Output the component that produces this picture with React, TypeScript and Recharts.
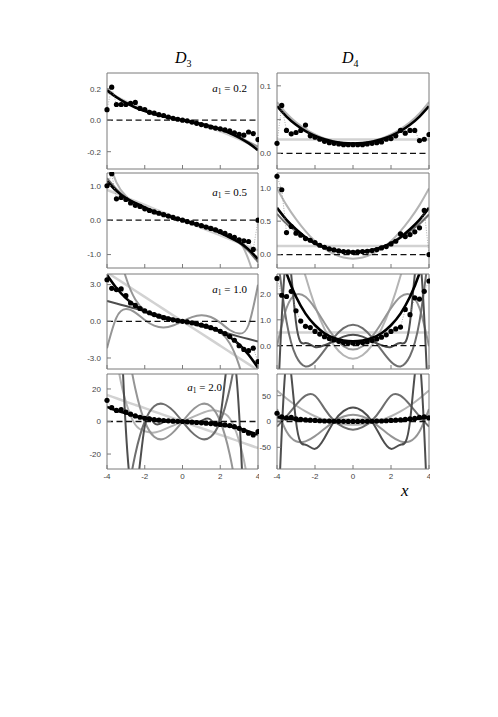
import React from "react";
import { ComposedChart, Line, XAxis, YAxis, ReferenceLine } from "recharts";

// shared x grids
const xCurve = [-4, -3.5, -3, -2.5, -2, -1.5, -1, -0.5, 0, 0.5, 1, 1.5, 2, 2.5, 3, 3.5, 4];
const xDots = [
  -4, -3.75, -3.5, -3.25, -3, -2.75, -2.5, -2.25, -2, -1.75, -1.5, -1.25, -1, -0.75, -0.5, -0.25,
  0, 0.25, 0.5, 0.75, 1, 1.25, 1.5, 1.75, 2, 2.25, 2.5, 2.75, 3, 3.25, 3.5, 3.75, 4,
];
const xTicks = [-4, -2, 0, 2, 4];

// D3, a1 = 0.2
const d3a02Dots = [0.067, 0.21, 0.1, 0.1, 0.1, 0.107, 0.113, 0.075, 0.068, 0.05, 0.045, 0.035, 0.03, 0.02, 0.012, 0.006, 0, -0.004, -0.012, -0.02, -0.028, -0.035, -0.043, -0.05, -0.055, -0.062, -0.068, -0.08, -0.09, -0.095, -0.075, -0.085, -0.123];
const d3a02Fit = [0.19, 0.146, 0.11, 0.081, 0.058, 0.039, 0.024, 0.012, 0, -0.012, -0.024, -0.039, -0.058, -0.081, -0.11, -0.146, -0.19];
const d3a02Gray = [0.2, 0.15, 0.113, 0.085, 0.06, 0.041, 0.026, 0.013, 0, -0.013, -0.026, -0.041, -0.06, -0.083, -0.108, -0.137, -0.168];
const d3a02Light = [0.178, 0.148, 0.12, 0.094, 0.07, 0.05, 0.032, 0.016, 0, -0.016, -0.032, -0.05, -0.07, -0.094, -0.12, -0.148, -0.178];

// D4, a1 = 0.2
const d4a02Dots = [0.015, 0.071, 0.034, 0.029, 0.031, 0.034, 0.042, 0.026, 0.024, 0.021, 0.018, 0.016, 0.015, 0.014, 0.013, 0.013, 0.013, 0.013, 0.013, 0.014, 0.015, 0.016, 0.017, 0.021, 0.022, 0.026, 0.034, 0.03, 0.034, 0.034, 0.019, 0.021, 0.028];
const d4a02Fit = [0.07, 0.0545, 0.0424, 0.033, 0.026, 0.0209, 0.0174, 0.0154, 0.0148, 0.0154, 0.0174, 0.0209, 0.026, 0.033, 0.0424, 0.0545, 0.07];
const d4a02Gray = [0.076, 0.059, 0.046, 0.036, 0.028, 0.022, 0.018, 0.0153, 0.0145, 0.0153, 0.018, 0.022, 0.028, 0.036, 0.046, 0.059, 0.076];
const d4a02Flat = [0.0207, 0.0207, 0.0207, 0.0207, 0.0207, 0.0207, 0.0207, 0.0207, 0.0207, 0.0207, 0.0207, 0.0207, 0.0207, 0.0207, 0.0207, 0.0207, 0.0207];

// D3, a1 = 0.5
const d3a05Dots = [1.0, 1.35, 0.62, 0.66, 0.6, 0.5, 0.43, 0.4, 0.33, 0.28, 0.24, 0.2, 0.16, 0.12, 0.08, 0.04, 0, -0.04, -0.08, -0.12, -0.16, -0.2, -0.24, -0.28, -0.33, -0.38, -0.45, -0.5, -0.57, -0.6, -0.62, -0.85, 0];
const d3a05Fit = [1.13, 0.85, 0.64, 0.5, 0.37, 0.25, 0.165, 0.08, 0, -0.08, -0.165, -0.25, -0.37, -0.5, -0.64, -0.85, -1.13];
const d3a05Steep = [1.9, 1.1, 0.7, 0.45, 0.3, 0.2, 0.13, 0.06, 0, -0.06, -0.13, -0.2, -0.3, -0.45, -0.6, -1.15, -2.0];
const d3a05Dark = [1.22, 0.9, 0.66, 0.49, 0.36, 0.25, 0.16, 0.08, 0, -0.08, -0.16, -0.25, -0.36, -0.49, -0.66, -0.9, -1.22];
const d3a05Light = [0.88, 0.77, 0.66, 0.55, 0.44, 0.33, 0.22, 0.11, 0, -0.11, -0.22, -0.33, -0.44, -0.55, -0.66, -0.77, -0.88];

// D4, a1 = 0.5
const d4a05Dots = [1.17, 0.97, 0.33, 0.42, 0.32, 0.29, 0.24, 0.215, 0.18, 0.14, 0.11, 0.085, 0.07, 0.055, 0.045, 0.04, 0.035, 0.04, 0.045, 0.05, 0.06, 0.075, 0.1, 0.12, 0.16, 0.2, 0.31, 0.27, 0.3, 0.34, 0.4, 0.66, 0];
const d4a05Fit = [0.7, 0.52, 0.38, 0.26, 0.17, 0.11, 0.07, 0.045, 0.04, 0.045, 0.07, 0.11, 0.17, 0.26, 0.38, 0.52, 0.7];
const d4a05Gray = [0.99, 0.74, 0.53, 0.35, 0.2, 0.088, 0.006, -0.044, -0.06, -0.044, 0.006, 0.088, 0.2, 0.35, 0.53, 0.74, 0.99];
const d4a05Dark = [0.61, 0.46, 0.35, 0.25, 0.16, 0.1, 0.06, 0.04, 0.03, 0.04, 0.06, 0.1, 0.16, 0.25, 0.35, 0.46, 0.6];
const d4a05Flat = [0.13, 0.13, 0.13, 0.13, 0.13, 0.13, 0.13, 0.13, 0.13, 0.13, 0.13, 0.13, 0.13, 0.13, 0.13, 0.13, 0.13];

// D3, a1 = 1.0
const d3a10Dots = [3.4, 2.7, 2.6, 2.65, 2.1, 1.5, 1.3, 1.05, 0.85, 0.7, 0.55, 0.42, 0.3, 0.2, 0.12, 0.05, 0, -0.05, -0.12, -0.2, -0.3, -0.4, -0.52, -0.65, -0.82, -1.0, -1.25, -1.55, -2.0, -2.3, -2.4, -2.2, -3.3];
const d3a10Fit = [3.8, 2.73, 1.9, 1.28, 0.82, 0.5, 0.275, 0.12, 0, -0.12, -0.275, -0.5, -0.82, -1.28, -1.9, -2.73, -3.8];
const d3a10Light = [4, 3.5, 3, 2.5, 2, 1.5, 1, 0.5, 0, -0.5, -1, -1.5, -2, -2.5, -3, -3.5, -4];
const d3a10Dark = [1.66, 1.45, 1.25, 1.04, 0.83, 0.62, 0.42, 0.21, 0, -0.21, -0.42, -0.62, -0.83, -1.04, -1.25, -1.45, -1.66];
const d3a10Steep = [12.9, 7, 3.6, 1.79, 0.9, 0.49, 0.277, 0.133, 0, -0.133, -0.277, -0.49, -0.9, -1.79, -3.6, -7, -12.9];
const d3a10Wave = [-2.2, 0.3, 1.0, 0.71, 0.11, -0.35, -0.5, -0.34, 0, 0.34, 0.5, 0.35, -0.11, -0.71, -1.0, -0.3, 3.0];

// D4, a1 = 1.0
const d4a10Dots = [2.6, 1.95, 1.9, 2.1, 1.35, 0.95, 0.75, 0.7, 0.55, 0.45, 0.35, 0.28, 0.22, 0.17, 0.12, 0.1, 0.1, 0.1, 0.12, 0.15, 0.2, 0.26, 0.33, 0.42, 0.55, 0.65, 0.72, 1.4, 1.2, 1.85, 1.8, 2.1, 2.5];
const d4a10Fit = [4.05, 2.8, 1.89, 1.24, 0.79, 0.48, 0.3, 0.2, 0.17, 0.2, 0.3, 0.48, 0.79, 1.24, 1.89, 2.8, 4.05];
const d4a10Flat = [0.51, 0.51, 0.51, 0.51, 0.51, 0.51, 0.51, 0.51, 0.51, 0.51, 0.51, 0.51, 0.51, 0.51, 0.51, 0.51, 0.51];
const d4a10U = [7.7, 5.75, 4.1, 2.69, 1.54, 0.65, 0.01, -0.37, -0.5, -0.37, 0.01, 0.65, 1.54, 2.69, 4.1, 5.75, 7.7];
const d4a10M = [-0.02, 1.45, 1.98, 1.89, 1.45, 0.88, 0.35, -0.02, -0.15, -0.02, 0.35, 0.88, 1.45, 1.89, 1.98, 1.45, -0.02];
const d4a10W = [3.66, 0.94, -0.4, -0.8, -0.62, -0.17, 0.32, 0.68, 0.81, 0.68, 0.32, -0.17, -0.62, -0.8, -0.4, 0.94, 3.66];
const d4a10Edge = [-3, 3.5, 0.9, 0.1, -0.05, 0.02, 0.18, 0.35, 0.42, 0.35, 0.18, 0.02, -0.05, 0.1, 0.9, 3.5, -3];

// D3, a1 = 2.0
const d3a20Dots = [13, 8.5, 6.8, 7.3, 5.8, 4.5, 3.4, 2.6, 2.0, 1.6, 1.2, 0.9, 0.6, 0.4, 0.2, 0.1, 0, -0.2, -0.4, -0.6, -0.8, -1.0, -1.3, -1.5, -1.8, -2.1, -2.5, -3.2, -4.2, -5.5, -7.2, -8.3, -6.2];
const d3a20Fit = [9, 6.8, 5, 3.4, 2.1, 1.2, 0.7, 0.3, 0, -0.3, -0.7, -1.2, -1.9, -2.9, -4.3, -6.2, -8];
const d3a20Light = [16.3, 14.3, 12.2, 10.2, 8.2, 6.1, 4.1, 2, 0, -2, -4.1, -6.1, -8.2, -10.2, -12.2, -14.3, -16.3];
const d3a20BowA = [-171, -103, -53.6, -20.1, 0, 9.4, 10.7, 6.7, 0, -6.7, -10.7, -9.4, 0, 20.1, 53.6, 103, 171];
const d3a20BowB = [171, 103, 53.6, 20.1, 0, -9.4, -10.7, -6.7, 0, 6.7, 10.7, 9.4, 0, -20.1, -53.6, -103, -171];
const d3a20Pale = [90, 40, 12, -2, -6, -6.8, -5, -2.5, 0, 2.5, 5, 6.8, 6, 2, -12, -40, -90];
const d3a20Edge = [400, 150, -5, -45, -3, -1, -0.4, -0.1, 0, 0.1, 0.4, 1, 3, 45, 5, -150, -400];

// D4, a1 = 2.0
const d4a20Dots = [16, 9, 7, 8, 5, 4, 3, 2.5, 2, 1.5, 1, 0.8, 0.5, 0.4, 0.3, 0.2, 0.2, 0.2, 0.3, 0.4, 0.5, 0.8, 1, 1.5, 2, 2.5, 3, 4, 5, 6, 8, 9, 7];
const d4a20Fit = [8.5, 6, 4.2, 2.8, 1.8, 1.1, 0.6, 0.4, 0.3, 0.4, 0.6, 1.1, 1.8, 2.8, 4.2, 6, 8.5];
const d4a20Flat = [4, 4, 4, 4, 4, 4, 4, 4, 4, 4, 4, 4, 4, 4, 4, 4, 4];
const d4a20U = [60, 44.5, 31, 19.5, 10.1, 2.9, -2.3, -5.5, -6.5, -5.5, -2.3, 2.9, 10.1, 19.5, 31, 44.5, 60];
const d4a20Q = [24, -19.5, -38.2, -38.5, -28.3, -13.9, -0.1, 9.6, 13, 9.6, -0.1, -13.9, -28.3, -38.5, -38.2, -19.5, 24];
const d4a20M = [-10, 10, 32, 50, 50, 25, 2, -11, -16, -11, 2, 25, 50, 50, 32, 10, -10];
const d4a20W = [-250, 120, 0, -45, -53, -32, 0, 20, 27, 20, 0, -32, -53, -45, 0, 120, -250];

const PALE = "#d2d2d2";
const LIGHT = "#b4b4b4";
const MID = "#959595";
const DARK = "#6e6e6e";
const DARKEST = "#4e4e4e";

type Curve = { values: number[]; color: string; width: number };
type PanelDef = {
  left: number;
  top: number;
  w: number;
  h: number;
  domain: [number, number];
  yTicks: number[];
  yLabels: string[];
  curves: Curve[];
  fit: number[];
  dots: number[];
  xLabels: boolean;
};

const tickFont = { fontSize: 8, fill: "#444", fontFamily: "Liberation Sans, Arial, sans-serif" };

function Panel({ p }: { p: PanelDef }) {
  const axisW = 30;
  const botH = 20;
  const rows = (vals: number[]) => xCurve.map((x, i) => ({ x, y: vals[i] }));
  const dotRows = xDots.map((x, i) => ({ x, y: p.dots[i] }));
  const labelOf = (v: number) => {
    const i = p.yTicks.indexOf(v);
    return i >= 0 ? p.yLabels[i] : "";
  };
  return (
    <div style={{ position: "absolute", left: p.left - axisW, top: p.top - 1 }}>
      <ComposedChart
        width={axisW + p.w + 1}
        height={1 + p.h + botH}
        margin={{ top: 0, right: 0, bottom: 0, left: 0 }}
      >
        <XAxis
          dataKey="x"
          type="number"
          domain={[-4, 4]}
          ticks={xTicks}
          interval={0}
          allowDataOverflow
          height={botH}
          stroke="#7a7a7a"
          tickSize={-4}
          tickMargin={8}
          tick={p.xLabels ? tickFont : () => <g />}
        />
        <XAxis
          xAxisId="t"
          orientation="top"
          type="number"
          domain={[-4, 4]}
          ticks={xTicks}
          interval={0}
          height={1}
          stroke="#7a7a7a"
          tickSize={-4}
          tick={() => <g />}
        />
        <YAxis
          type="number"
          domain={p.domain}
          ticks={p.yTicks}
          interval={0}
          allowDataOverflow
          width={axisW}
          stroke="#7a7a7a"
          tickSize={-4}
          tickMargin={10}
          tick={tickFont}
          tickFormatter={labelOf}
        />
        <YAxis
          yAxisId="r"
          orientation="right"
          type="number"
          domain={p.domain}
          ticks={p.yTicks}
          interval={0}
          width={1}
          stroke="#7a7a7a"
          tickSize={-4}
          tick={() => <g />}
        />
        {p.curves.map((c, i) => (
          <Line
            key={i}
            data={rows(c.values)}
            dataKey="y"
            type="natural"
            stroke={c.color}
            strokeWidth={c.width}
            dot={false}
            isAnimationActive={false}
          />
        ))}
        <ReferenceLine y={0} stroke="#111" strokeWidth={1.3} strokeDasharray="6 3.5" />
        <Line
          data={rows(p.fit)}
          dataKey="y"
          type="natural"
          stroke="#000"
          strokeWidth={2.6}
          dot={false}
          isAnimationActive={false}
        />
        <Line
          data={dotRows}
          dataKey="y"
          type="linear"
          stroke="#8a8a8a"
          strokeWidth={0.7}
          strokeDasharray="1 1.5"
          dot={{ r: 2.6, fill: "#000", stroke: "none", clipDot: false }}
          isAnimationActive={false}
        />
      </ComposedChart>
    </div>
  );
}

const LX = 107;
const RX = 277;
const PW = 151;

const panels: PanelDef[] = [
  {
    left: LX, top: 73, w: PW, h: 96, domain: [-0.31, 0.3], yTicks: [-0.2, 0, 0.2], yLabels: ["-0.2", "0.0", "0.2"],
    curves: [
      { values: d3a02Light, color: PALE, width: 2.5 },
      { values: d3a02Gray, color: MID, width: 2 },
    ],
    fit: d3a02Fit, dots: d3a02Dots, xLabels: false,
  },
  {
    left: RX, top: 73, w: PW + 1, h: 96, domain: [-0.023, 0.119], yTicks: [0, 0.05, 0.1], yLabels: ["0.0", "", "0.1"],
    curves: [
      { values: d4a02Flat, color: PALE, width: 2.5 },
      { values: d4a02Gray, color: LIGHT, width: 2.2 },
    ],
    fit: d4a02Fit, dots: d4a02Dots, xLabels: false,
  },
  {
    left: LX, top: 173, w: PW, h: 95, domain: [-1.39, 1.37], yTicks: [-1, 0, 1], yLabels: ["-1.0", "0.0", "1.0"],
    curves: [
      { values: d3a05Light, color: PALE, width: 2.5 },
      { values: d3a05Steep, color: LIGHT, width: 2 },
      { values: d3a05Dark, color: DARK, width: 2 },
    ],
    fit: d3a05Fit, dots: d3a05Dots, xLabels: false,
  },
  {
    left: RX, top: 173, w: PW + 1, h: 95, domain: [-0.2, 1.22], yTicks: [0, 0.5, 1], yLabels: ["0.0", "0.5", "1.0"],
    curves: [
      { values: d4a05Flat, color: PALE, width: 2.5 },
      { values: d4a05Gray, color: LIGHT, width: 2 },
      { values: d4a05Dark, color: DARK, width: 2 },
    ],
    fit: d4a05Fit, dots: d4a05Dots, xLabels: false,
  },
  {
    left: LX, top: 274, w: PW, h: 95, domain: [-3.9, 3.87], yTicks: [-3, 0, 3], yLabels: ["-3.0", "0.0", "3.0"],
    curves: [
      { values: d3a10Light, color: PALE, width: 2.5 },
      { values: d3a10Dark, color: DARKEST, width: 2 },
      { values: d3a10Steep, color: MID, width: 2 },
      { values: d3a10Wave, color: MID, width: 2 },
    ],
    fit: d3a10Fit, dots: d3a10Dots, xLabels: false,
  },
  {
    left: RX, top: 274, w: PW + 1, h: 95, domain: [-0.9, 2.77], yTicks: [0, 1, 2], yLabels: ["0.0", "1.0", "2.0"],
    curves: [
      { values: d4a10Flat, color: PALE, width: 2.5 },
      { values: d4a10U, color: LIGHT, width: 2 },
      { values: d4a10M, color: MID, width: 2 },
      { values: d4a10W, color: DARK, width: 2 },
      { values: d4a10Edge, color: DARKEST, width: 2 },
    ],
    fit: d4a10Fit, dots: d4a10Dots, xLabels: false,
  },
  {
    left: LX, top: 374, w: PW, h: 95, domain: [-29.2, 29.2], yTicks: [-20, 0, 20], yLabels: ["-20", "0", "20"],
    curves: [
      { values: d3a20Light, color: PALE, width: 2.5 },
      { values: d3a20Pale, color: LIGHT, width: 2 },
      { values: d3a20BowB, color: MID, width: 2 },
      { values: d3a20BowA, color: DARK, width: 2 },
      { values: d3a20Edge, color: DARKEST, width: 2 },
    ],
    fit: d3a20Fit, dots: d3a20Dots, xLabels: true,
  },
  {
    left: RX, top: 374, w: PW + 1, h: 95, domain: [-92, 92], yTicks: [-50, 0, 50], yLabels: ["-50", "0", "50"],
    curves: [
      { values: d4a20Flat, color: PALE, width: 2.5 },
      { values: d4a20U, color: LIGHT, width: 2 },
      { values: d4a20Q, color: MID, width: 2 },
      { values: d4a20M, color: DARK, width: 2 },
      { values: d4a20W, color: DARKEST, width: 2 },
    ],
    fit: d4a20Fit, dots: d4a20Dots, xLabels: true,
  },
];

const aLabels = [
  { text: "0.2", right: 247, top: 82 },
  { text: "0.5", right: 247, top: 186 },
  { text: "1.0", right: 247, top: 283 },
  { text: "2.0", right: 222, top: 381 },
];

const serif = "Liberation Serif, Times New Roman, serif";

export default function App() {
  return (
    <div style={{ position: "absolute", left: 0, top: 0, width: 498, height: 717, background: "#fff" }}>
      <div style={{ position: "absolute", left: 175, top: 49, fontFamily: serif, fontStyle: "italic", fontSize: 16 }}>
        D<span style={{ fontSize: 10, fontStyle: "normal", position: "relative", top: 4 }}>3</span>
      </div>
      <div style={{ position: "absolute", left: 342, top: 49, fontFamily: serif, fontStyle: "italic", fontSize: 16 }}>
        D<span style={{ fontSize: 10, fontStyle: "normal", position: "relative", top: 4 }}>4</span>
      </div>
      {panels.map((p, i) => (
        <Panel key={i} p={p} />
      ))}
      {aLabels.map((l) => (
        <div
          key={l.text}
          style={{ position: "absolute", right: 498 - l.right, top: l.top, fontFamily: serif, fontSize: 11, whiteSpace: "nowrap" }}
        >
          <i>a</i>
          <span style={{ fontSize: 7.5, position: "relative", top: 2 }}>1</span> = {l.text}
        </div>
      ))}
      <div style={{ position: "absolute", left: 401, top: 481, fontFamily: serif, fontStyle: "italic", fontSize: 17 }}>x</div>
    </div>
  );
}
